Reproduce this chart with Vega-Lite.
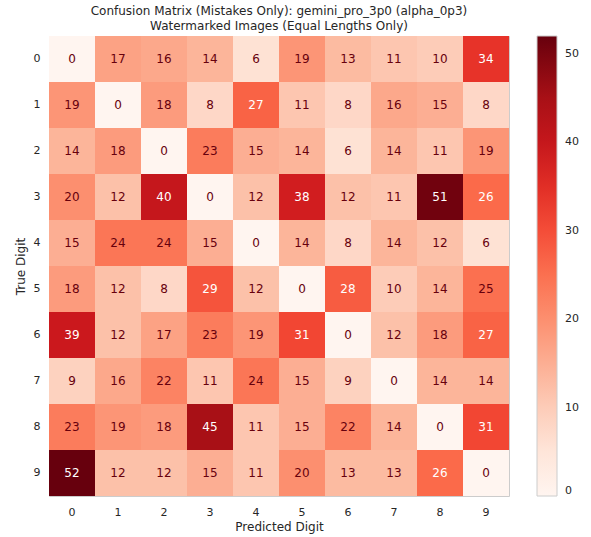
{
  "$schema": "https://vega.github.io/schema/vega-lite/v6.json",
  "autosize": {"type": "none"},
  "padding": {"left": 49, "top": 36, "right": 82, "bottom": 41},
  "width": 460,
  "height": 460,
  "title": {
    "text": ["Confusion Matrix (Mistakes Only): gemini_pro_3p0 (alpha_0p3)", "Watermarked Images (Equal Lengths Only)"],
    "font": "DejaVu Sans",
    "fontSize": 12,
    "fontWeight": "normal",
    "color": "#262626",
    "offset": 3,
    "lineHeight": 15
  },
  "config": {
    "view": {"stroke": "#cccccc", "strokeWidth": 1},
    "font": "DejaVu Sans"
  },
  "data": {"values": [
    {"t":0,"p":0,"v":0},{"t":0,"p":1,"v":17},{"t":0,"p":2,"v":16},{"t":0,"p":3,"v":14},{"t":0,"p":4,"v":6},{"t":0,"p":5,"v":19},{"t":0,"p":6,"v":13},{"t":0,"p":7,"v":11},{"t":0,"p":8,"v":10},{"t":0,"p":9,"v":34},
    {"t":1,"p":0,"v":19},{"t":1,"p":1,"v":0},{"t":1,"p":2,"v":18},{"t":1,"p":3,"v":8},{"t":1,"p":4,"v":27},{"t":1,"p":5,"v":11},{"t":1,"p":6,"v":8},{"t":1,"p":7,"v":16},{"t":1,"p":8,"v":15},{"t":1,"p":9,"v":8},
    {"t":2,"p":0,"v":14},{"t":2,"p":1,"v":18},{"t":2,"p":2,"v":0},{"t":2,"p":3,"v":23},{"t":2,"p":4,"v":15},{"t":2,"p":5,"v":14},{"t":2,"p":6,"v":6},{"t":2,"p":7,"v":14},{"t":2,"p":8,"v":11},{"t":2,"p":9,"v":19},
    {"t":3,"p":0,"v":20},{"t":3,"p":1,"v":12},{"t":3,"p":2,"v":40},{"t":3,"p":3,"v":0},{"t":3,"p":4,"v":12},{"t":3,"p":5,"v":38},{"t":3,"p":6,"v":12},{"t":3,"p":7,"v":11},{"t":3,"p":8,"v":51},{"t":3,"p":9,"v":26},
    {"t":4,"p":0,"v":15},{"t":4,"p":1,"v":24},{"t":4,"p":2,"v":24},{"t":4,"p":3,"v":15},{"t":4,"p":4,"v":0},{"t":4,"p":5,"v":14},{"t":4,"p":6,"v":8},{"t":4,"p":7,"v":14},{"t":4,"p":8,"v":12},{"t":4,"p":9,"v":6},
    {"t":5,"p":0,"v":18},{"t":5,"p":1,"v":12},{"t":5,"p":2,"v":8},{"t":5,"p":3,"v":29},{"t":5,"p":4,"v":12},{"t":5,"p":5,"v":0},{"t":5,"p":6,"v":28},{"t":5,"p":7,"v":10},{"t":5,"p":8,"v":14},{"t":5,"p":9,"v":25},
    {"t":6,"p":0,"v":39},{"t":6,"p":1,"v":12},{"t":6,"p":2,"v":17},{"t":6,"p":3,"v":23},{"t":6,"p":4,"v":19},{"t":6,"p":5,"v":31},{"t":6,"p":6,"v":0},{"t":6,"p":7,"v":12},{"t":6,"p":8,"v":18},{"t":6,"p":9,"v":27},
    {"t":7,"p":0,"v":9},{"t":7,"p":1,"v":16},{"t":7,"p":2,"v":22},{"t":7,"p":3,"v":11},{"t":7,"p":4,"v":24},{"t":7,"p":5,"v":15},{"t":7,"p":6,"v":9},{"t":7,"p":7,"v":0},{"t":7,"p":8,"v":14},{"t":7,"p":9,"v":14},
    {"t":8,"p":0,"v":23},{"t":8,"p":1,"v":19},{"t":8,"p":2,"v":18},{"t":8,"p":3,"v":45},{"t":8,"p":4,"v":11},{"t":8,"p":5,"v":15},{"t":8,"p":6,"v":22},{"t":8,"p":7,"v":14},{"t":8,"p":8,"v":0},{"t":8,"p":9,"v":31},
    {"t":9,"p":0,"v":52},{"t":9,"p":1,"v":12},{"t":9,"p":2,"v":12},{"t":9,"p":3,"v":15},{"t":9,"p":4,"v":11},{"t":9,"p":5,"v":20},{"t":9,"p":6,"v":13},{"t":9,"p":7,"v":13},{"t":9,"p":8,"v":26},{"t":9,"p":9,"v":0}
  ]},
  "encoding": {
    "x": {"field": "p", "type": "ordinal", "scale": {"paddingInner": 0, "paddingOuter": 0},
      "axis": {"title": "Predicted Digit", "labelAngle": 0, "ticks": false, "domain": false, "labelPadding": 10,
        "labelFont": "DejaVu Sans", "labelFontSize": 11, "labelColor": "#262626",
        "titleFont": "DejaVu Sans", "titleFontSize": 12, "titleFontWeight": "normal", "titleColor": "#262626", "titlePadding": 4}},
    "y": {"field": "t", "type": "ordinal", "scale": {"paddingInner": 0, "paddingOuter": 0},
      "axis": {"title": "True Digit", "ticks": false, "domain": false, "labelPadding": 9, "labelAngle": 0,
        "labelFont": "DejaVu Sans", "labelFontSize": 11, "labelColor": "#262626",
        "titleFont": "DejaVu Sans", "titleFontSize": 12, "titleFontWeight": "normal", "titleColor": "#262626", "titlePadding": 6}}
  },
  "layer": [
    {
      "mark": {"type": "rect"},
      "encoding": {
        "color": {"field": "v", "type": "quantitative",
          "scale": {"domain": [0, 6.5, 13, 19.5, 26, 32.5, 39, 45.5, 52],
            "range": ["#fff5f0", "#fee0d2", "#fcbba1", "#fc9272", "#fb6a4a", "#ef3b2c", "#cb181d", "#a50f15", "#67000d"],
            "interpolate": "rgb"},
          "legend": {"title": null, "orient": "none", "legendX": 488, "legendY": 0,
            "direction": "vertical", "gradientLength": 460, "gradientThickness": 20,
            "gradientStrokeColor": "#cccccc", "gradientStrokeWidth": 1,
            "values": [0, 10, 20, 30, 40, 50],
            "labelFont": "DejaVu Sans", "labelFontSize": 11, "labelColor": "#262626", "labelOffset": 8}}
      }
    },
    {
      "mark": {"type": "text", "fontSize": 12, "font": "DejaVu Sans"},
      "encoding": {
        "text": {"field": "v", "type": "quantitative"},
        "color": {"condition": {"test": "datum.v >= 26", "value": "#ffffff"}, "value": "#67000d"}
      }
    }
  ]
}
